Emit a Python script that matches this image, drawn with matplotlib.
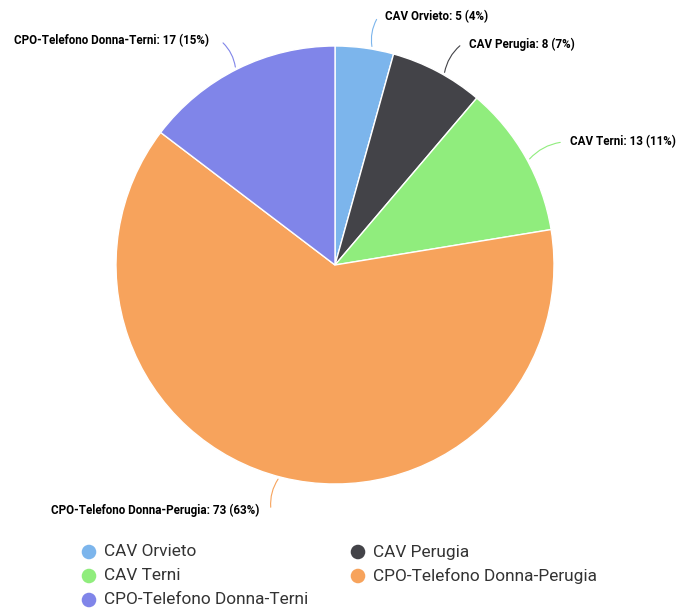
import numpy as np
import matplotlib
matplotlib.use('Agg')
import matplotlib.pyplot as plt

# data
categories = ['CAV Orvieto', 'CAV Perugia', 'CAV Terni',
              'CPO-Telefono Donna-Perugia', 'CPO-Telefono Donna-Terni']
values = [5, 8, 13, 73, 17]
colors = ['#7cb5ec', '#434348', '#90ed7d', '#f7a35c', '#8085e9']

# layout (pixels, y measured from top)
W, H = 684, 612
cx, cy, R = 335, 265, 219
label_ends = [(378, 17), (462, 44), (563, 142), (271, 510), (221, 41)]

plt.rcParams['font.family'] = ['Roboto', 'DejaVu Sans']

fig = plt.figure(figsize=(W / 100, H / 100), dpi=100)
ax = fig.add_axes([0, 0, 1, 1])

ax.pie(values, center=(cx, H - cy), radius=R, startangle=90, counterclock=False,
       colors=colors, wedgeprops=dict(edgecolor='white', linewidth=1))
ax.set_xlim(0, W)
ax.set_ylim(0, H)
ax.set_aspect('auto')
ax.axis('off')

total = sum(values)
for i, (name, v) in enumerate(zip(categories, values)):
    ex, ey = label_ends[i]
    dx, dy = ex - cx, cy - ey
    d = np.hypot(dx, dy)
    sx, sy = cx + R * dx / d, cy - R * dy / d
    right = ex > cx
    ax.annotate('', xy=(ex, H - ey), xytext=(sx, H - sy),
                arrowprops=dict(arrowstyle='-', color=colors[i], lw=0.8,
                                connectionstyle='arc3,rad=%s' % (-0.2 if right else 0.2)))
    pct = round(v / total * 100)
    ax.text(ex + (7 if right else -12), H - ey, f'{name}: {v} ({pct}%)',
            ha='left' if right else 'right', va='center',
            fontsize=8.4, fontweight='bold', color='#000000')

# legend
for i, name in enumerate(categories):
    row, col = i // 2, i % 2
    lx = 89 + col * 269
    ly = 552 + row * 24
    ax.scatter([lx], [H - ly], s=110, color=colors[i], edgecolors='none')
    ax.text(lx + 15, H - ly, name, ha='left', va='center', fontsize=12.4, color='#333333')

plt.savefig('out.png', dpi=100)
plt.close()
